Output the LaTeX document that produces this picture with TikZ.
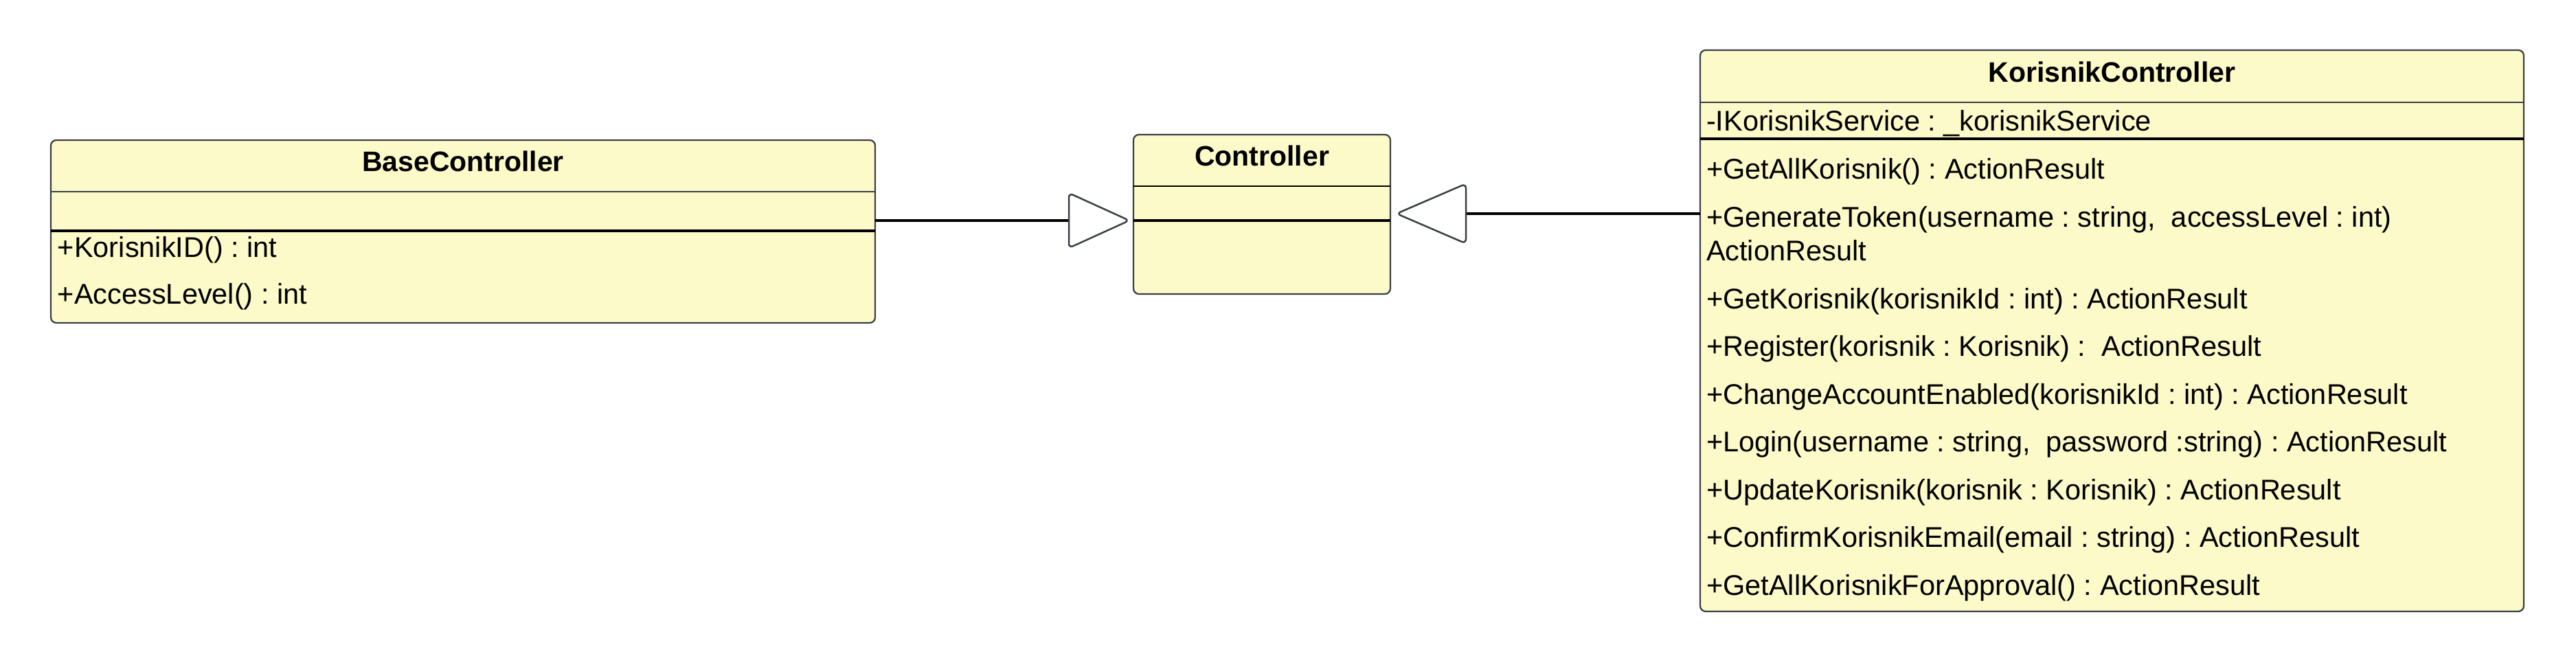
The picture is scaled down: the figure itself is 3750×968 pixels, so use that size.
\documentclass[tikz,border=0pt]{standalone}
\usepackage{fontspec}
\setmainfont{Liberation Sans}
\definecolor{clsfill}{RGB}{252,250,200}
\definecolor{bordergray}{RGB}{58,63,70}
\begin{document}
\frenchspacing
\begin{tikzpicture}[x=0.2pt,y=-0.2pt,
  cls/.style={draw=bordergray, fill=clsfill, line width=0.45pt, rounded corners=1.6pt,
              inner sep=0pt, outer sep=0pt, anchor=north west},
  hsep/.style={draw=bordergray, line width=0.4pt},
  tsep/.style={draw=black, line width=0.85pt},
  conn/.style={draw=black, line width=0.8pt},
  tri/.style={draw=bordergray, fill=white, line width=0.5pt, rounded corners=1.3pt, line join=round},
  txt/.style={inner sep=0pt, outer sep=0pt, anchor=base west, font=\fontsize{8.3pt}{9.6pt}\selectfont},
  ttl/.style={inner sep=0pt, outer sep=0pt, anchor=base, font=\fontsize{8.2pt}{9.6pt}\selectfont\bfseries}]
\useasboundingbox (0,0) rectangle (3750,968);

% ---- BaseController ----
\node[cls, minimum width=240pt, minimum height=53.2pt] (base) at (74,204) {};
\draw[hsep] (base.west |- 0,279) -- (base.east |- 0,279);
\draw[tsep] (base.west |- 0,336) -- (base.east |- 0,336);
\node[ttl] (baset) at (674,250) {BaseController};
\node[txt] (basem1) at (84,375) {+KorisnikID() : int};
\node[txt] (basem2) at (84,443) {+AccessLevel() : int};

% ---- Controller ----
\node[cls, minimum width=74.8pt, minimum height=46.4pt] (ctrl) at (1650,196) {};
\draw[hsep, draw=black] (ctrl.west |- 0,271) -- (ctrl.east |- 0,271);
\draw[tsep] (ctrl.west |- 0,321) -- (ctrl.east |- 0,321);
\node[ttl] (ctrlt) at (1837,242) {Controller};

% ---- KorisnikController ----
\node[cls, minimum width=239.8pt, minimum height=163.4pt] (kor) at (2475,73) {};
\draw[hsep] (kor.west |- 0,149) -- (kor.east |- 0,149);
\draw[tsep] (kor.west |- 0,202) -- (kor.east |- 0,202);
\node[ttl] (kort) at (3074.5,120) {KorisnikController};
\node[txt] (kora1) at (2484,191) {-IKorisnikService : \_korisnikService};
\node[txt] (korm1) at (2484,261) {+GetAllKorisnik() : ActionResult};
\node[txt] (korm2) at (2484,331) {+GenerateToken(username : string,\ \ accessLevel : int)};
\node[txt] (korm2b) at (2484,380) {ActionResult};
\node[txt] (korm3) at (2484,449.5) {+GetKorisnik(korisnikId : int) : ActionResult};
\node[txt] (korm4) at (2484,519) {+Register(korisnik : Korisnik) :\ \ ActionResult};
\node[txt] (korm5) at (2484,588.5) {+ChangeAccountEnabled(korisnikId : int) : ActionResult};
\node[txt] (korm6) at (2484,658) {+Login(username : string,\ \ password :string) : ActionResult};
\node[txt] (korm7) at (2484,727.5) {+UpdateKorisnik(korisnik : Korisnik) : ActionResult};
\node[txt] (korm8) at (2484,797) {+ConfirmKorisnikEmail(email : string) : ActionResult};
\node[txt] (korm9) at (2484,866.5) {+GetAllKorisnikForApproval() : ActionResult};

% ---- Generalisation: BaseController -> Controller ----
\coordinate (tip1) at (1644,321);
\coordinate (tb1) at (1556,321);
\draw[conn] (base.east |- tb1) -- (tb1);
\draw[tri] (tip1) -- ++(-88,-40) -- ++(0,80) -- cycle;

% ---- Generalisation: KorisnikController -> Controller ----
\coordinate (tip2) at (2033,311);
\coordinate (tb2) at (2134,311);
\draw[conn] (kor.west |- tb2) -- (tb2);
\draw[tri] (tip2) -- ++(101,-43.5) -- ++(0,87) -- cycle;
\end{tikzpicture}
\end{document}
